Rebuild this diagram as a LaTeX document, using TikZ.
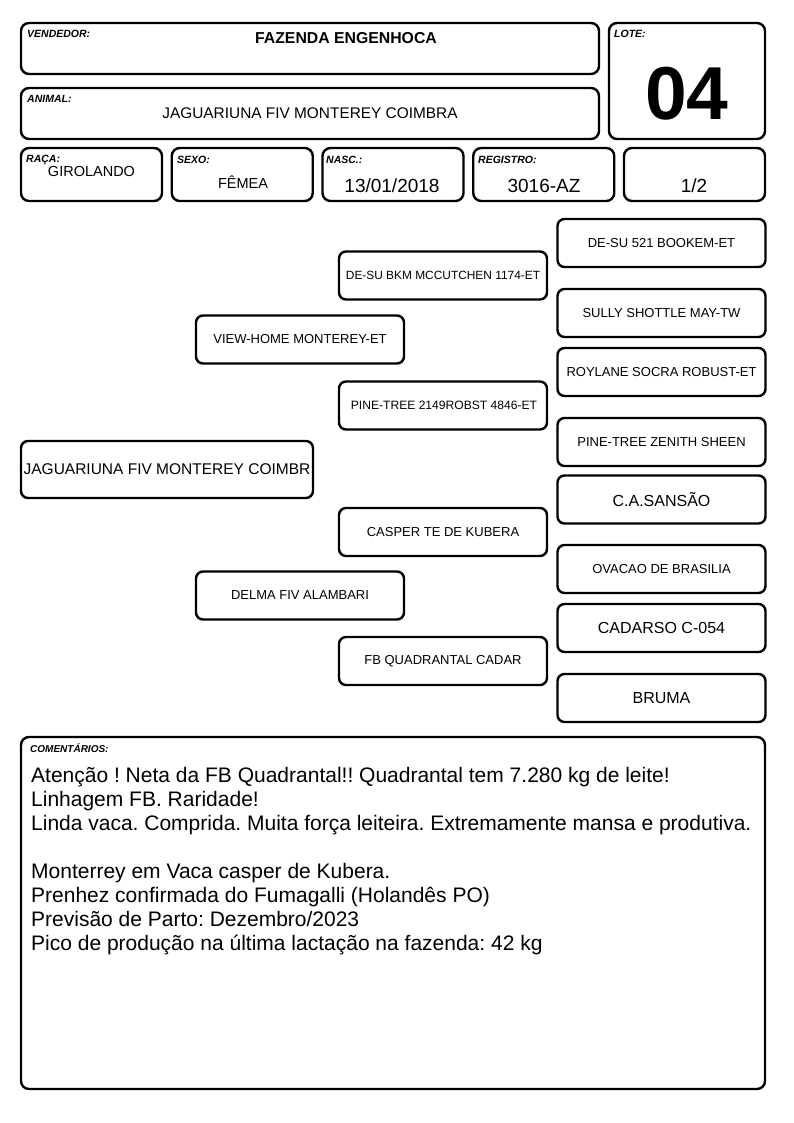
\documentclass[tikz,border=0pt]{standalone}
\usepackage{fontspec}
\setmainfont{Liberation Sans}
\usetikzlibrary{positioning}
\frenchspacing

\begin{document}
\begin{tikzpicture}[x=1pt,y=-1pt,inner sep=0pt,
    frame/.style={draw,line width=2.4pt,rounded corners=8pt},
    infobox/.style={frame,minimum width=141pt,minimum height=53pt},
    pedbox/.style={frame,rounded corners=7pt,minimum width=208pt,minimum height=48pt,
      font=\fontsize{13}{15}\selectfont},
    tag/.style={anchor=base west,font=\fontsize{10.5}{12}\bfseries\itshape\selectfont},
    value/.style={anchor=base,font=\fontsize{14.5}{16}\selectfont},
    bigvalue/.style={anchor=base,font=\fontsize{19}{21}\selectfont}]

   \useasboundingbox (0,0) rectangle (794,1123);

   % header
   \node[frame,minimum width=578pt,minimum height=51pt] (vendedor) at (310,48.5) {};
   \node[tag] (vendedor_t) at (27,38) {VENDEDOR:};
   \node[anchor=base,font=\fontsize{15.8}{17}\bfseries\selectfont] (fazenda) at (346,43.5) {FAZENDA ENGENHOCA};

   \node[frame,minimum width=156pt,minimum height=116pt] (lote) at (687,81) {};
   \node[tag] (lote_t) at (614,38) {LOTE:};
   \node[anchor=base,font=\fontsize{75}{80}\bfseries\selectfont] (lote_v) at (687,120) {04};

   \node[frame,minimum width=578pt,minimum height=51pt] (animal) at (310,113.5) {};
   \node[tag] (animal_t) at (27,103) {ANIMAL:};
   \node[anchor=base,font=\fontsize{15.4}{17}\selectfont] (animal_v) at (310,118.5) {JAGUARIUNA FIV MONTEREY COIMBRA};

   % data row
   \begin{scope}[node distance=150.75pt,on grid]
   \node[infobox] (raca) at (91.5,174.5) {};
   \node[infobox] (sexo) [right=of raca] {};
   \node[infobox] (nasc) [right=of sexo] {};
   \node[infobox] (registro) [right=of nasc] {};
   \node[infobox] (grau) [right=of registro] {};
   \end{scope}
   \node[tag] (raca_t) at (26,163) {RAÇA:};
   \node[value] (raca_v) at (91.5,177) {GIROLANDO};
   \node[tag] (sexo_t) at (177,164) {SEXO:};
   \node[value] (sexo_v) at (243,189) {FÊMEA};
   \node[tag] (nasc_t) at (326,164) {NASC.:};
   \node[bigvalue] (nasc_v) at (392,192.5) {13/01/2018};
   \node[tag] (registro_t) at (478,164) {REGISTRO:};
   \node[bigvalue] (registro_v) at (544,192.5) {3016-AZ};
   \node[bigvalue] (grau_v) at (694,192.5) {1/2};

   % pedigree
   \node[pedbox,minimum width=292pt,minimum height=57pt,font=\fontsize{15.5}{17}\selectfont] (p) at (167,469.5) {JAGUARIUNA FIV MONTEREY COIMBR};

   \node[pedbox] (pai) at (300,339.5) {VIEW-HOME MONTEREY-ET};
   \node[pedbox] (mae) at (300,595.5) {DELMA FIV ALAMBARI};

   \node[pedbox,font=\fontsize{11.9}{13}\selectfont] (avo_pp) at (443,275.5) {DE-SU BKM MCCUTCHEN 1174-ET};
   \node[pedbox,font=\fontsize{12.1}{14}\selectfont] (avo_pm) at (443,405.5) {\hspace{2pt}PINE-TREE 2149ROBST 4846-ET};
   \node[pedbox] (avo_mp) at (443,532) {CASPER TE DE KUBERA};
   \node[pedbox] (avo_mm) at (443,661) {FB QUADRANTAL CADAR};

   \node[pedbox] (bis_1) at (661.5,243) {DE-SU 521 BOOKEM-ET};
   \node[pedbox] (bis_2) at (661.5,313) {SULLY SHOTTLE MAY-TW};
   \node[pedbox] (bis_3) at (661.5,372) {ROYLANE SOCRA ROBUST-ET};
   \node[pedbox] (bis_4) at (661.5,442) {PINE-TREE ZENITH SHEEN};
   \node[pedbox,font=\fontsize{16}{18}\selectfont] (bis_5) at (661.5,499.5) {C.A.SANSÃO};
   \node[pedbox] (bis_6) at (661.5,569) {OVACAO DE BRASILIA};
   \node[pedbox,font=\fontsize{16}{18}\selectfont] (bis_7) at (661.5,628) {CADARSO C-054};
   \node[pedbox,font=\fontsize{16}{18}\selectfont] (bis_8) at (661.5,698) {BRUMA};

   % comments
   \node[frame,minimum width=744pt,minimum height=352pt] (coment) at (393,913) {};
   \node[tag,font=\fontsize{10}{12}\bfseries\itshape\selectfont] (coment_t) at (30,752) {COMENTÁRIOS:};
   \node[anchor=north west,align=left,font=\fontsize{21}{24}\selectfont] (coment_v) at (31,767)
     {Atenção ! Neta da FB Quadrantal!! Quadrantal tem 7.280 kg de leite!\\
      Linhagem FB. Raridade!\\
      Linda vaca. Comprida. Muita força leiteira. Extremamente mansa e produtiva.\\
      \mbox{}\\
      Monterrey em Vaca casper de Kubera.\\
      Prenhez confirmada do Fumagalli (Holandês PO)\\
      Previsão de Parto: Dezembro/2023\\
      Pico de produção na última lactação na fazenda: 42 kg};
\end{tikzpicture}
\end{document}
